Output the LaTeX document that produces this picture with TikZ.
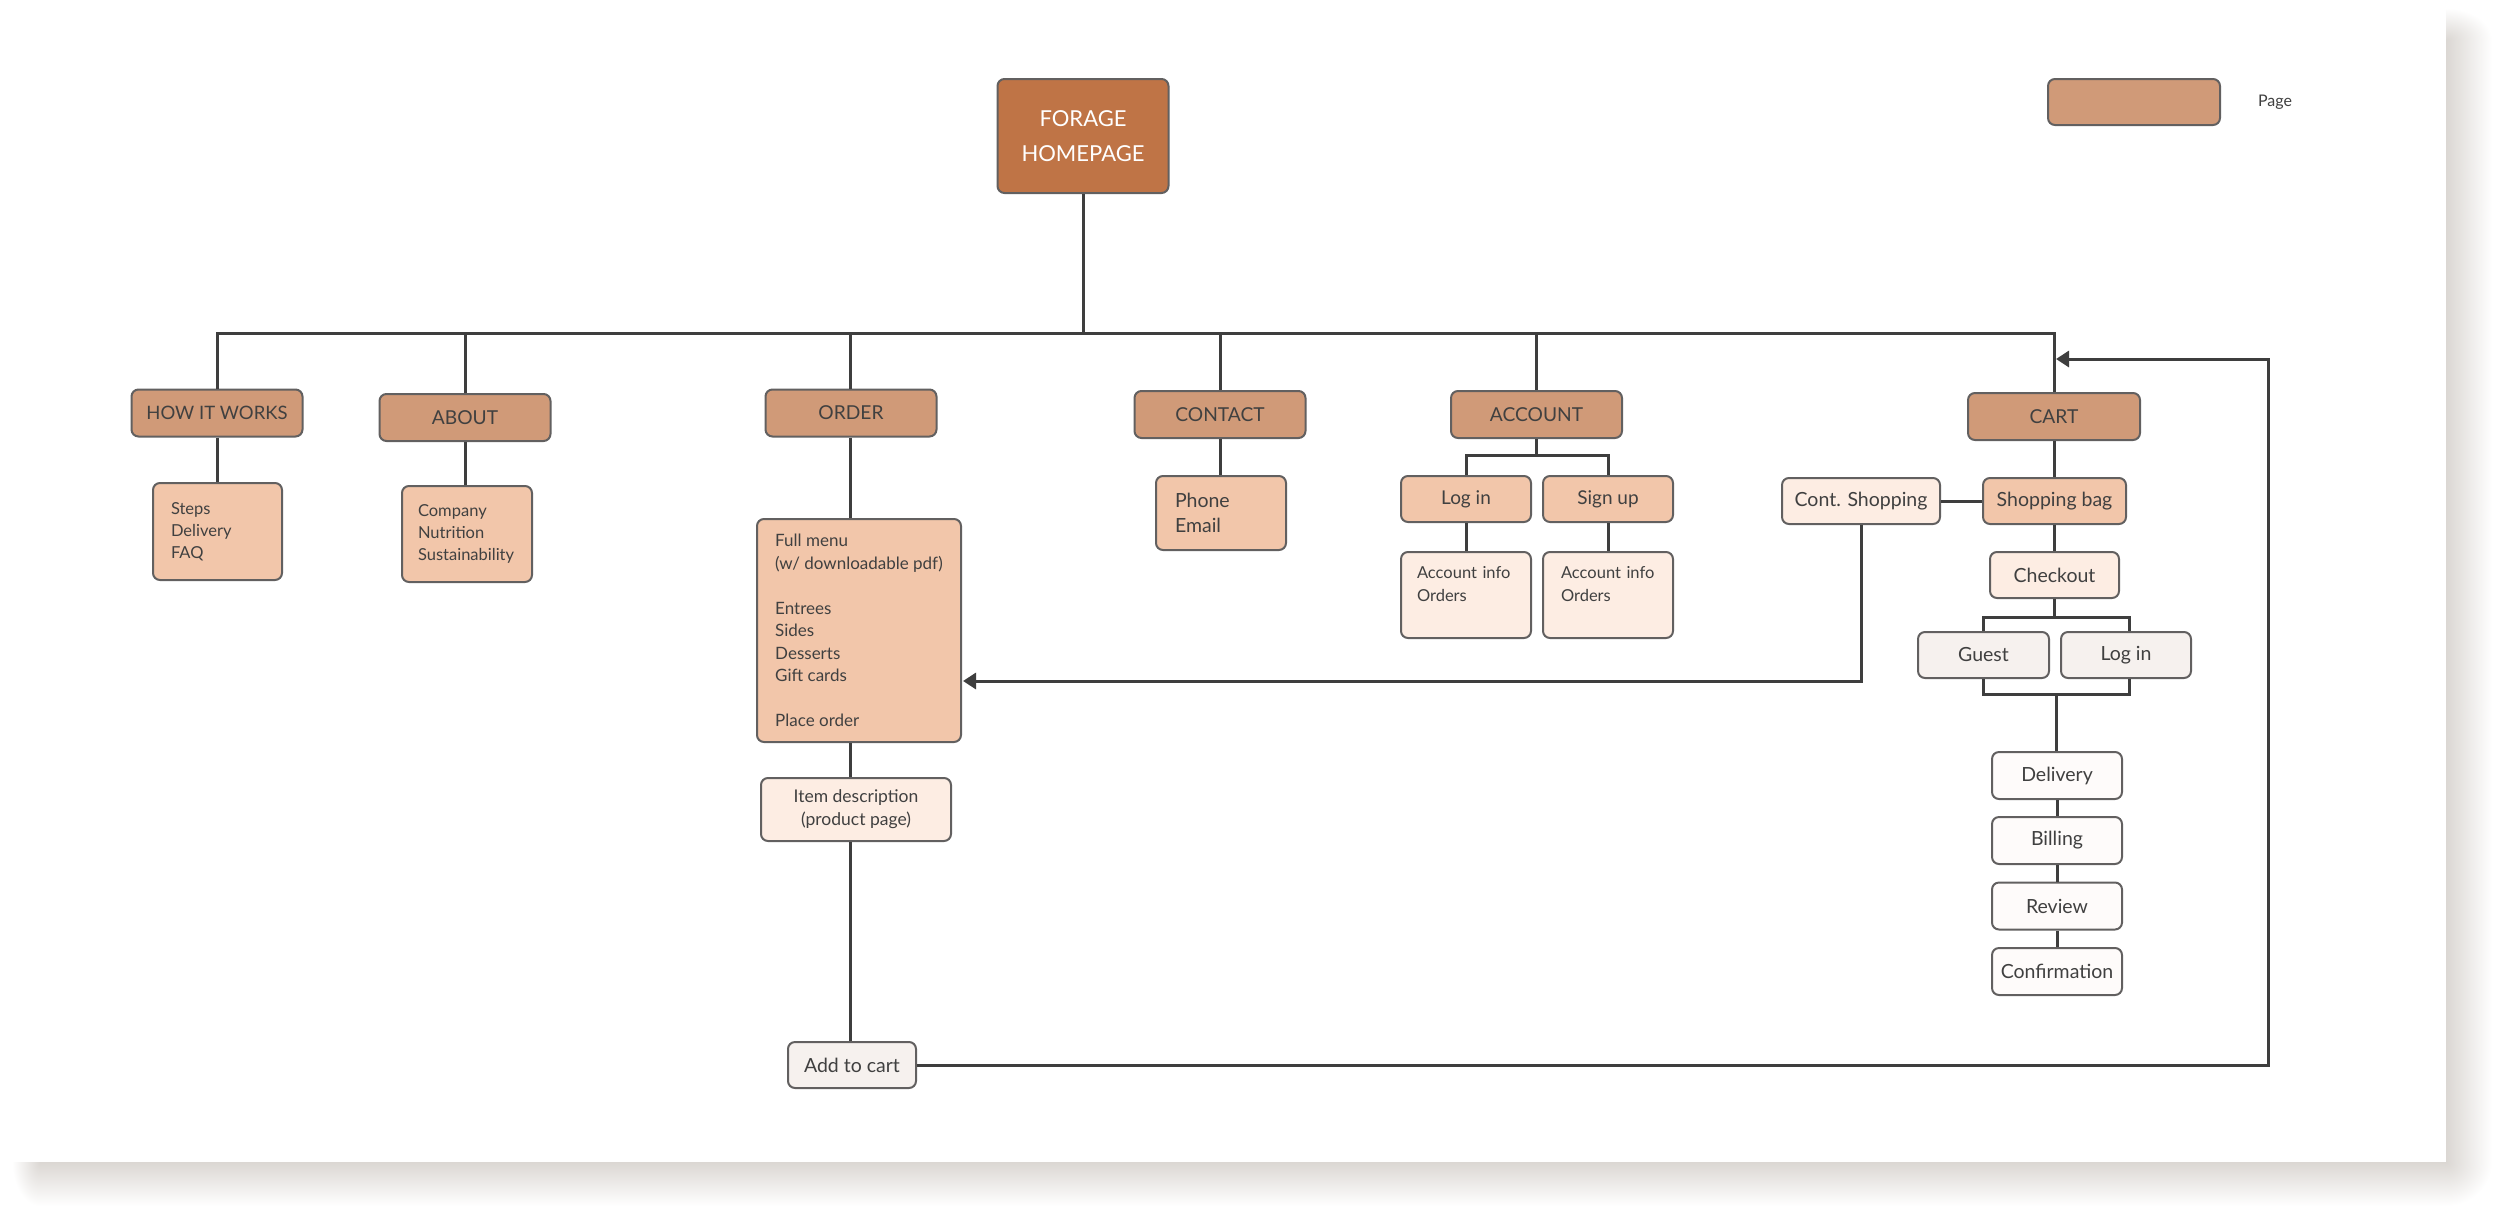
\documentclass[tikz,border=0pt]{standalone}
\usepackage{fontspec}
\setmainfont{Lato}
\usetikzlibrary{arrows.meta,calc}
\hyphenpenalty=10000
\exhyphenpenalty=10000
\definecolor{homec}{HTML}{BF7446}
\definecolor{pagec}{HTML}{D09A78}
\definecolor{lightc}{HTML}{F2C6AA}
\definecolor{palec}{HTML}{FDEDE3}
\definecolor{greyc}{HTML}{F6F1EE}
\definecolor{whitec}{HTML}{FEFBFA}
\definecolor{txt}{HTML}{404040}
\definecolor{bordc}{HTML}{626060}
\definecolor{linec}{HTML}{3E3E3E}
\definecolor{shadc}{HTML}{DBD7D3}
\begin{document}
\begin{tikzpicture}[x=1pt,y=-1pt,
  box/.style={rectangle, rounded corners=7pt, draw=bordc, line width=2pt, inner sep=0pt, text=txt, align=center},
  pagebox/.style={box, fill=pagec, minimum width=171pt, minimum height=47pt, font=\fontsize{19.2}{24}\selectfont},
  homebox/.style={box, fill=homec, text=white, font=\fontsize{22}{35}\selectfont},
  listbox/.style={box, fill=lightc, align=left, font=\fontsize{16.5}{22}\selectfont},
  lbox/.style={box, fill=lightc, minimum width=130pt, minimum height=46pt, font=\fontsize{19}{24}\selectfont},
  pbox/.style={box, fill=palec, minimum height=46pt, font=\fontsize{19.5}{24}\selectfont},
  gbox/.style={box, fill=greyc, minimum height=46pt, font=\fontsize{19.5}{24}\selectfont},
  wbox/.style={box, fill=whitec, minimum width=130pt, minimum height=47pt, font=\fontsize{19.5}{24}\selectfont},
  conn/.style={draw=linec, line width=3pt},
  arr/.style={conn, -{Triangle[length=13pt,width=16pt]}}]
\useasboundingbox (0,0) rectangle (2500,1216);
% page and drop shadow
\fill[white] (0,0) rectangle (2500,1216);
\shade[left color=shadc, right color=white] (2446,40) rectangle (2492,1162);
\shade[top color=shadc, bottom color=white] (40,1162) rectangle (2446,1206);
\begin{scope}
  \clip (2446,8) rectangle (2492,40);
  \shade[inner color=shadc, outer color=white] (2446,40) ellipse (46 and 32);
\end{scope}
\begin{scope}
  \clip (12,1162) rectangle (40,1206);
  \shade[inner color=shadc, outer color=white] (40,1162) ellipse (28 and 44);
\end{scope}
\begin{scope}
  \clip (2446,1162) rectangle (2492,1206);
  \shade[inner color=shadc, outer color=white] (2446,1162) ellipse (46 and 44);
\end{scope}
\fill[white] (0,0) rectangle (2446,1162);

% nodes
\node[homebox, minimum width=171pt, minimum height=114pt] (home) at (1083,136) {FORAGE\\HOMEPAGE};
\node[box, fill=pagec, minimum width=172pt, minimum height=46pt] (legend) at (2134,102) {};
\node[text=txt, font=\fontsize{16}{20}\selectfont] (legendtxt) at (2275,102) {Page};

\node[pagebox, font=\fontsize{18.5}{24}\selectfont] (how) at (217,413) {HOW IT WORKS};
\node[pagebox] (about) at (465,417.5) {ABOUT};
\node[pagebox] (order) at (851,413) {ORDER};
\node[pagebox] (contact) at (1220,414.5) {CONTACT};
\node[pagebox] (account) at (1536.5,414.5) {ACCOUNT};
\node[pagebox, minimum width=172pt] (cart) at (2054,416.5) {CART};

\node[listbox, minimum width=129pt, minimum height=97pt, text width=93pt] (steps) at (217.5,531.5) {Steps\\Delivery\\FAQ};
\node[listbox, minimum width=130pt, minimum height=96pt, text width=98pt] (company) at (467,534) {Company\\Nutrition\\Sustainability};
\node[listbox, minimum width=204pt, minimum height=223pt, font=\fontsize{17}{22.5}\selectfont] (menu) at (859,630.5)
  {Full menu\\(w/ downloadable pdf)\\\mbox{}\\Entrees\\Sides\\Desserts\\Gift cards\\\mbox{}\\Place order};
\node[pbox, minimum width=190pt, minimum height=63pt, font=\fontsize{17.5}{23}\selectfont] (itemdesc) at (856,809.5) {Item description\\(product page)};
\node[gbox, minimum width=128pt] (addcart) at (852,1065) {Add to cart};

\node[listbox, minimum width=130pt, minimum height=74pt, text width=92pt, font=\fontsize{19.5}{25}\selectfont] (phone) at (1221,513) {Phone\\Email};

\node[lbox] (login) at (1466,499) {Log in};
\node[lbox] (signup) at (1608,499) {Sign up};
\node[listbox, fill=palec, minimum width=130pt, minimum height=86pt, text width=98pt, font=\fontsize{16.5}{23}\selectfont] (accinfoA) at (1466,595) {Account~info\\Orders\\\mbox{}};
\node[listbox, fill=palec, minimum width=130pt, minimum height=86pt, text width=94pt, font=\fontsize{16.5}{23}\selectfont] (accinfoB) at (1608,595) {Account~info\\Orders\\\mbox{}};

\node[lbox, minimum width=143pt, font=\fontsize{19.5}{24}\selectfont] (bag) at (2054.5,501) {Shopping bag};
\node[pbox, minimum width=158pt] (cont) at (1861,501) {Cont. Shopping};
\node[pbox, minimum width=129pt] (checkout) at (2054.5,575) {Checkout};
\node[gbox, minimum width=131pt] (guest) at (1983.5,655) {Guest};
\node[gbox, minimum width=130pt] (loginB) at (2126,655) {Log in};
\node[wbox] (delivery) at (2057,775.5) {Delivery};
\node[wbox] (billing) at (2057,840.5) {Billing};
\node[wbox] (review) at (2057,906) {Review};
\node[wbox] (confirm) at (2057,971.5) {Confirmation};

% connectors
\coordinate (bus) at (1083,333);
\draw[conn] (home.south) -- (bus);
\draw[conn] (how.north) -- (how.north |- bus) -- (cart.north |- bus) -- (cart.north);
\draw[conn] (about.north) -- (about.north |- bus);
\draw[conn] ([xshift=-1pt]order.north) -- ([xshift=-1pt]order.north |- bus);
\draw[conn] (contact.north) -- (contact.north |- bus);
\draw[conn] (account.north) -- (account.north |- bus);

\draw[conn] (how.south) -- (how.south |- steps.north);
\draw[conn] (about.south) -- (about.south |- company.north);
\coordinate (ordx) at ([xshift=-1pt]order.south);
\draw[conn] (ordx) -- (ordx |- menu.north);
\draw[conn] (ordx |- menu.south) -- (ordx |- itemdesc.north);
\draw[conn] (ordx |- itemdesc.south) -- (ordx |- addcart.north);
\draw[conn] (contact.south) -- (contact.south |- phone.north);

\coordinate (accbr) at (1537,455);
\draw[conn] (account.south) -- (account.south |- accbr);
\draw[conn] (login.north) -- (login.north |- accbr) -- (signup.north |- accbr) -- (signup.north);
\draw[conn] (login.south) -- (accinfoA.north);
\draw[conn] (signup.south) -- (accinfoB.north);

\draw[conn] (cart.south) -- (cart.south |- bag.north);
\draw[conn] (cont.east) -- (bag.west);
\draw[conn] (bag.south) -- (checkout.north);
\coordinate (cobr) at (2055,617);
\coordinate (cobrB) at (2056,694);
\draw[conn] (checkout.south) -- (checkout.south |- cobr);
\draw[conn] (guest.north) -- (guest.north |- cobr) -- ([xshift=3pt]loginB.north |- cobr) -- ([xshift=3pt]loginB.north);
\draw[conn] (guest.south) -- (guest.south |- cobrB) -- ([xshift=3pt]loginB.south |- cobrB) -- ([xshift=3pt]loginB.south);
\draw[conn] (cobrB) -- (cobrB |- delivery.north);
\draw[conn] (delivery.south) -- (billing.north);
\draw[conn] (billing.south) -- (review.north);
\draw[conn] (review.south) -- (confirm.north);

% return arrows
\coordinate (menuin) at ($(menu.east)+(1,50.5)$);
\draw[arr] (cont.south) |- (menuin);
\coordinate (retR) at (2268,1065);
\coordinate (cartin) at (2056,359);
\draw[arr] (addcart.east) -- (retR) |- (cartin);
\end{tikzpicture}
\end{document}
